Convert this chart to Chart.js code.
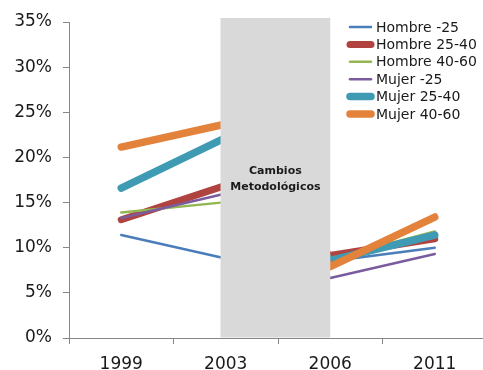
<!DOCTYPE html>
<html>
<head>
<meta charset="utf-8">
<script src="https://cdn.jsdelivr.net/npm/chart.js@4/dist/chart.umd.min.js"></script>
<style>
html,body{margin:0;padding:0;background:#fff;overflow:hidden;width:483px;height:370px;}
#wrap{width:490px;height:370px;}
</style>
</head>
<body>
<div id="wrap"><canvas id="c" width="490" height="370"></canvas></div>
<script>
// ---- data ----
const years = ["1999", "2003", "2006", "2011"];
const seriesNames = ["Hombre -25", "Hombre 25-40", "Hombre 40-60", "Mujer -25", "Mujer 25-40", "Mujer 40-60"];
const hombreMenos25 = [11.4, 8.8, 8.5, 10.0];
const hombre25a40  = [13.1, 16.9, 9.15, 11.0];
const hombre40a60  = [13.9, 15.05, 8.75, 11.8];
const mujerMenos25  = [13.3, 16.0, 6.65, 9.3];
const mujer25a40   = [16.6, 22.2, 8.6, 11.4];
const mujer40a60   = [21.15, 23.7, 7.9, 13.4];
const yTicksMax = 35;
const yTicksStep = 5;
const boxLabel = ["Cambios", "Metodológicos"];
// box spans (in category index units) the methodological change period
const boxFrom = 0.95, boxTo = 2.0;

// ---- styles ----
const colors = ["#4a7ebb", "#b0433f", "#93b651", "#7a5c9e", "#3f9ab3", "#e3823a"];
const widths = [2.5, 7, 2.5, 2.5, 7.5, 7.5];
const values = [hombreMenos25, hombre25a40, hombre40a60, mujerMenos25, mujer25a40, mujer40a60];
const axisColor = "#868686";
const FONT = "'DejaVu Sans', sans-serif";

const datasets = values.map((v, i) => ({
  label: seriesNames[i],
  data: v,
  borderColor: colors[i],
  backgroundColor: colors[i],
  borderWidth: widths[i],
  borderCapStyle: 'round',
  borderJoinStyle: 'round',
  pointRadius: 0,
  pointHoverRadius: 0,
  tension: 0,
  fill: false,
  order: values.length - i
}));

const boxPlugin = {
  id: 'methodBox',
  afterDatasetsDraw(chart) {
    const {ctx, scales: {x, y}} = chart;
    const x0 = x.getPixelForValue(boxFrom);
    const x1 = x.getPixelForValue(boxTo);
    const yTop = y.getPixelForValue(35.45);
    const yBot = y.getPixelForValue(0) - 0.5;
    ctx.save();
    ctx.fillStyle = "#d9d9d9";
    ctx.fillRect(x0, yTop, x1 - x0, yBot - yTop);
    ctx.fillStyle = "#1a1a1a";
    ctx.font = "bold 11px " + FONT;
    ctx.textAlign = "center";
    ctx.textBaseline = "middle";
    const cx = (x0 + x1) / 2;
    ctx.fillText(boxLabel[0], cx, 171);
    ctx.fillText(boxLabel[1], cx, 187);
    ctx.restore();
  }
};

const legendPlugin = {
  id: 'customLegend',
  afterDraw(chart) {
    const ctx = chart.ctx;
    ctx.save();
    ctx.font = "14px " + FONT;
    ctx.textBaseline = "middle";
    ctx.textAlign = "left";
    chart.data.datasets.forEach((ds, i) => {
      const yy = 27 + i * 17.4;
      ctx.strokeStyle = ds.borderColor;
      ctx.lineWidth = ds.borderWidth;
      ctx.lineCap = 'round';
      ctx.beginPath();
      ctx.moveTo(350, yy);
      ctx.lineTo(371, yy);
      ctx.stroke();
      ctx.fillStyle = "#1a1a1a";
      ctx.fillText(ds.label, 376, yy + 1);
    });
    ctx.restore();
  }
};

new Chart(document.getElementById('c'), {
  type: 'line',
  data: { labels: years, datasets },
  options: {
    responsive: false,
    devicePixelRatio: 1,
    animation: false,
    layout: { padding: { top: 22, right: 3, bottom: 0, left: 0 } },
    plugins: { legend: { display: false }, tooltip: { enabled: false } },
    scales: {
      x: {
        offset: true,
        grid: { offset: true, drawOnChartArea: false, color: axisColor, tickLength: 6 },
        border: { color: axisColor, width: 1 },
        ticks: { color: "#1a1a1a", font: { family: FONT, size: 17 }, padding: 10, maxRotation: 0 },
        afterFit(s) { s.height = 32; }
      },
      y: {
        min: 0, max: yTicksMax,
        grid: { drawOnChartArea: false, color: axisColor, tickLength: 6 },
        border: { color: axisColor, width: 1 },
        ticks: { stepSize: yTicksStep, color: "#1a1a1a", font: { family: FONT, size: 17 }, padding: 11,
          callback: v => v + '%' },
        afterFit(s) { s.width = 69; }
      }
    }
  },
  plugins: [boxPlugin, legendPlugin]
});
</script>
</body>
</html>
